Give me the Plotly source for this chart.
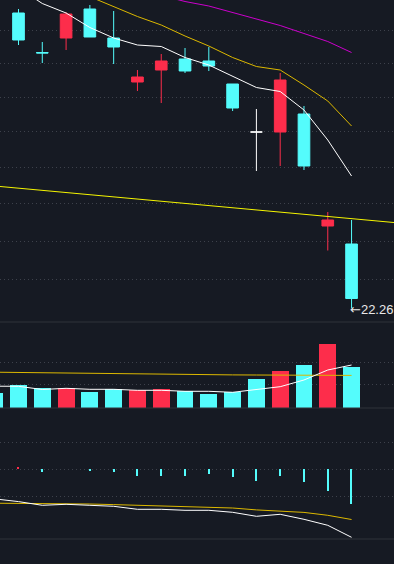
import plotly.graph_objects as go

# ---------------- data ----------------
idx = list(range(16))

open_ = [28.90, 28.16, 27.37, 27.66, 28.24, 27.66, 26.78, 27.02, 27.24, 27.20, 26.74, 25.78, 25.78, 26.14, 23.90, 23.54]
high  = [29.00, 28.24, 27.58, 28.18, 28.32, 28.20, 27.02, 27.34, 27.46, 27.48, 26.74, 26.24, 26.96, 26.30, 24.18, 24.02]
low   = [28.40, 27.52, 27.16, 27.42, 27.68, 27.14, 26.60, 26.36, 26.96, 27.00, 26.20, 25.00, 25.10, 25.02, 23.41, 22.26]
close = [28.50, 27.62, 27.36, 28.14, 27.68, 27.48, 26.88, 27.20, 27.00, 27.10, 26.26, 25.78, 26.82, 25.10, 24.02, 22.45]

ma5  = [28.98, 28.66, 28.35, 28.16, 27.87, 27.66, 27.52, 27.49, 27.27, 27.12, 26.90, 26.67, 26.59, 26.22, 25.62, 24.90]
ma10 = [29.28, 29.08, 28.88, 28.68, 28.49, 28.29, 28.09, 27.92, 27.70, 27.50, 27.27, 27.09, 27.02, 26.72, 26.40, 25.90]
ma20 = [29.36, 29.24, 29.12, 29.00, 28.88, 28.76, 28.63, 28.51, 28.39, 28.30, 28.17, 28.04, 27.91, 27.75, 27.59, 27.37]

trend_x = [0, 17]
trend_y = [24.70, 23.96]

volume   = [1.53, 2.30, 2.00, 1.97, 1.60, 1.90, 1.77, 1.90, 1.70, 1.40, 1.57, 2.90, 3.70, 4.30, 6.40, 4.10]
vol_ma5  = [2.18, 2.17, 1.85, 1.97, 1.87, 1.87, 1.77, 1.77, 1.67, 1.67, 1.57, 1.87, 2.13, 2.80, 3.80, 4.30]
vol_ma10 = [3.58, 3.55, 3.50, 3.47, 3.43, 3.41, 3.39, 3.37, 3.35, 3.33, 3.31, 3.30, 3.29, 3.28, 3.27, 3.26]

dif  = [-0.296, -0.323, -0.360, -0.350, -0.360, -0.370, -0.400, -0.400, -0.410, -0.410, -0.430, -0.470, -0.450, -0.500, -0.560, -0.680]
dea  = [-0.339, -0.340, -0.341, -0.343, -0.347, -0.353, -0.361, -0.370, -0.377, -0.380, -0.387, -0.406, -0.420, -0.431, -0.460, -0.502]
hist = [0.080, 0.025, -0.027, 0.0, -0.017, -0.027, -0.067, -0.067, -0.067, -0.047, -0.077, -0.117, -0.067, -0.127, -0.217, -0.347]

price_grid = [27.82, 27.153, 26.473, 25.793, 25.073, 24.354, 23.594, 22.834]
vol_grid = [2.37, 4.57]
macd_grid = [0.27, 0.0, -0.27]

# ---------------- style ----------------
BG = "#161a23"
RED = "#fd2d4b"
CYAN = "#54fcfc"
WHITE = "#ffffff"
GOLD = "#dcb800"
MAGENTA = "#cc00cc"
YELLOW = "#f5f500"
GRID = "#3d414b"
SEP = "#2e323b"

X_RANGE = [0.2224, 16.784]

fig = go.Figure()

# candles (flat candles drawn white)
reg = [i for i in idx if open_[i] != close[i]]
flat = [i for i in idx if open_[i] == close[i]]

fig.add_trace(go.Candlestick(
    x=reg, open=[open_[i] for i in reg], high=[high[i] for i in reg],
    low=[low[i] for i in reg], close=[close[i] for i in reg],
    increasing=dict(line=dict(color=RED, width=1), fillcolor=RED),
    decreasing=dict(line=dict(color=CYAN, width=1), fillcolor=CYAN),
    whiskerwidth=0, xaxis="x", yaxis="y", hoverinfo="skip"))
fig.add_trace(go.Candlestick(
    x=flat, open=[open_[i] for i in flat], high=[high[i] for i in flat],
    low=[low[i] for i in flat], close=[close[i] for i in flat],
    increasing=dict(line=dict(color=WHITE, width=1), fillcolor=WHITE),
    decreasing=dict(line=dict(color=WHITE, width=1), fillcolor=WHITE),
    whiskerwidth=0, xaxis="x", yaxis="y", hoverinfo="skip"))

for ys, col in [(ma20, MAGENTA), (ma10, GOLD), (ma5, WHITE)]:
    fig.add_trace(go.Scatter(x=idx, y=ys, mode="lines", line=dict(color=col, width=1),
                             xaxis="x", yaxis="y", hoverinfo="skip"))
fig.add_trace(go.Scatter(x=trend_x, y=trend_y, mode="lines", line=dict(color=YELLOW, width=1),
                         xaxis="x", yaxis="y", hoverinfo="skip"))

# volume
vol_colors = [RED if close[i] > open_[i] else CYAN for i in idx]
fig.add_trace(go.Bar(x=idx, y=volume, width=0.71, marker=dict(color=vol_colors, line=dict(width=0)),
                     xaxis="x2", yaxis="y2", hoverinfo="skip"))
fig.add_trace(go.Scatter(x=idx, y=vol_ma10, mode="lines", line=dict(color=GOLD, width=1),
                         xaxis="x2", yaxis="y2", hoverinfo="skip"))
fig.add_trace(go.Scatter(x=idx, y=vol_ma5, mode="lines", line=dict(color=WHITE, width=1),
                         xaxis="x2", yaxis="y2", hoverinfo="skip"))

# MACD
hist_colors = [RED if h > 0 else CYAN for h in hist]
fig.add_trace(go.Bar(x=idx, y=hist, width=0.05, marker=dict(color=hist_colors, line=dict(width=0)),
                     xaxis="x3", yaxis="y3", hoverinfo="skip"))
fig.add_trace(go.Scatter(x=idx, y=dea, mode="lines", line=dict(color=GOLD, width=1),
                         xaxis="x3", yaxis="y3", hoverinfo="skip"))
fig.add_trace(go.Scatter(x=idx, y=dif, mode="lines", line=dict(color=WHITE, width=1),
                         xaxis="x3", yaxis="y3", hoverinfo="skip"))

H = 564.0
def frac(px):
    return 1 - px / H

xcommon = dict(range=X_RANGE, showgrid=False, zeroline=False, showticklabels=False,
               showline=False, ticks="", fixedrange=True)
ycommon = dict(showgrid=True, gridcolor=GRID, gridwidth=1, griddash="1px,3px",
               zeroline=False, showticklabels=False, showline=False, ticks="")

fig.update_layout(
    width=394, height=564,
    margin=dict(l=0, r=0, t=0, b=0, pad=0),
    paper_bgcolor=BG, plot_bgcolor=BG,
    showlegend=False,
    bargap=0, boxgap=0.3,
    xaxis=dict(domain=[0, 1], anchor="y", rangeslider=dict(visible=False), **xcommon),
    xaxis2=dict(domain=[0, 1], anchor="y2", **xcommon),
    xaxis3=dict(domain=[0, 1], anchor="y3", **xcommon),
    yaxis=dict(domain=[frac(322), 1], anchor="x", range=[21.98, 28.42],
               tickmode="array", tickvals=price_grid, **ycommon),
    yaxis2=dict(domain=[frac(408), frac(322)], anchor="x2", range=[0, 8.6],
                tickmode="array", tickvals=vol_grid, **ycommon),
    yaxis3=dict(domain=[frac(539), frac(408)], anchor="x3", range=[-0.697, 0.613],
                tickmode="array", tickvals=macd_grid, **ycommon),
)

for px in (322, 408, 539):
    fig.add_shape(type="line", xref="paper", yref="paper", x0=0, x1=1,
                  y0=frac(px), y1=frac(px), line=dict(color=SEP, width=1))

last = idx[-1]
fig.add_annotation(x=last, y=low[last], xref="x", yref="y",
                   text=f"<span style=\"font-family:'DejaVu Sans'\">\u2190</span>{low[last]:.2f}",
                   showarrow=False,
                   xanchor="left", yanchor="middle", xshift=-2, yshift=-1,
                   borderpad=0, borderwidth=0,
                   font=dict(family="Liberation Sans, Arial, sans-serif", size=13, color="#e8e8e8"))

fig.write_html(
    "out.html",
    config={"displayModeBar": False},
    post_script="document.body.style.margin='0';document.body.style.overflow='hidden';"
                "document.body.style.background='" + BG + "';",
)
